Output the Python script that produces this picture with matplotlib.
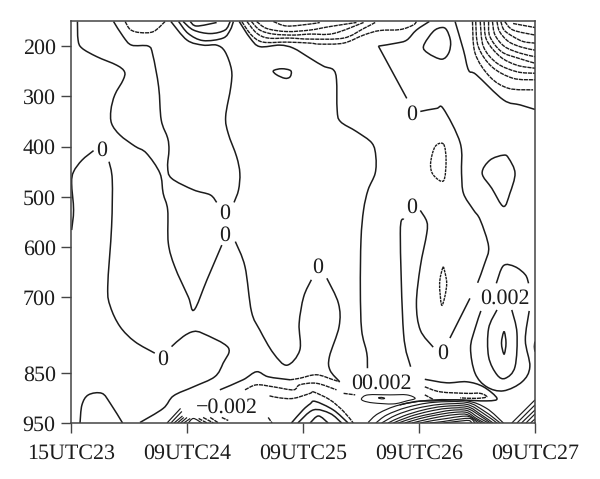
import matplotlib
matplotlib.use('Agg')
import numpy as np
import matplotlib.pyplot as plt
from matplotlib.path import Path
from matplotlib.patches import PathPatch

plt.rcParams['font.family'] = ['Liberation Serif', 'DejaVu Serif']
plt.rcParams['text.hinting'] = 'no_hinting'
plt.rcParams['text.hinting_factor'] = 1

# x = hours since 15UTC23, y = pressure in hPa
time_ticks = [0, 18, 36, 54, 72]
time_labels = ['15UTC23', '09UTC24', '09UTC25', '09UTC26', '09UTC27']
level_ticks = [200, 300, 400, 500, 600, 700, 850, 950]

# contours, solid ones
solid_lines = [
    [(1.0,151),(1.1,188),(1.7,204),(4.0,221),(7.1,238),(8.3,251),(8.1,267),(6.8,297),(6.2,327),(6.3,354),(7.6,377),(9.9,399),(11.7,413),(13.8,453),(14.3,493),(15.0,526),(15.1,592),(16.1,639),(18.2,699),(19.1,725),(21.1,665),(23.4,596)],
    [(6.6,151),(8.1,181),(9.4,198),(12.0,200),(12.7,218),(13.6,281),(14.0,347),(15.0,383),(15.2,407),(15.0,440),(15.6,463),(19.0,486),(21.6,496),(22.6,511)],
    [(15.5,151),(18.0,188),(20.5,198),(22.6,198),(23.9,211),(24.9,247),(24.8,281),(24.0,340),(24.4,374),(25.7,420),(26.2,453),(26.0,486),(25.3,511)],
    [(25.5,589),(27.0,639),(28.0,728),(29.3,765),(31.4,811),(33.5,835),(35.5,805),(35.4,752),(36.1,699),(37.3,665)],
    [(39.7,662),(41.5,712),(41.6,758),(40.1,818),(40.2,845),(41.7,868)],
    [(16.7,151),(18.2,175),(20.5,189),(23.6,184),(24.7,168),(25.2,151)],
    [(17.4,151),(19.0,168),(21.6,175),(23.9,168),(24.7,151)],
    [(18.5,151),(19.5,160),(22.6,153)],
    [(26.1,151),(27.8,184),(29.3,201),(32.4,198),(34.5,204),(37.1,224),(39.2,240),(40.7,247),(41.2,267),(41.3,327),(41.8,350),(44.3,370),(46.7,393),(47.3,420),(47.2,453),(46.1,486),(45.4,526),(45.0,585),(44.9,685),(45.1,765),(45.9,811),(46.0,841)],
    [(55.6,151),(53.6,168),(52.1,188),(50.5,194),(47.7,200)],
    [(47.7,200),(52.1,304)],
    [(54.2,330),(56.7,324),(57.8,325),(60.4,393),(60.6,453),(60.9,493),(62.4,525),(63.5,546),(64.8,599),(64.2,632),(63.1,671)],
    [(61.9,702),(58.8,781)],
    [(56.2,799),(54.2,765),(53.6,712),(54.2,639),(55.2,573),(55.2,549),(54.2,527)],
    [(51.6,543),(51.1,573),(51.6,771),(52.7,838)],
    [(59.6,151),(60.9,208),(61.7,248),(62.9,257),(67.1,307),(69.7,317),(72,326)],
    [(66.0,672),(67.1,637),(68.9,639),(70.5,655),(71.0,672)],
    [(63.6,727),(62.7,762),(62.0,801),(62.7,851),(64.5,878),(67.1,886),(70.0,868),(71.2,838),(70.5,785),(71.1,727)],
    [(66.1,725),(64.8,762),(64.8,818),(66.1,854),(67.4,861),(68.9,838),(69.2,771),(68.4,725)],
    [(72,788),(71.9,798),(72,808)],
    [(3.5,408),(1.7,427),(0.4,450),(0.1,473),(0.4,526),(0.1,566)],
    [(5.9,430),(6.4,466),(6.3,559),(5.7,679),(6.1,718),(7.6,758),(9.9,788),(13.0,811)],
    [(15.6,798),(17.4,778),(19.0,768),(20.5,772),(24.4,800),(23.6,831),(22.3,858),(19.0,878),(15.9,896),(14.3,921),(10.7,949)],
    [(1.4,950),(1.7,914),(2.7,894),(4.8,891),(6.1,911),(8.0,950)],
    [(23.1,884),(26.7,864),(28.8,848),(30.6,858),(34.0,864)],
    [(34.2,950),(36.0,924),(37.1,912),(37.9,907),(40.7,924),(43.0,950)],
    [(35.2,950),(37.6,924),(40.2,931),(42.0,950)],
    [(37.1,950),(38.4,936),(39.9,950)],
    [(54.9,863),(58.3,870),(61.4,868),(64.0,878),(66.1,901),(64.5,906),(59.8,904),(56.2,906),(53.6,907),(51.0,914)],
]

# tight packed contours at the ground, drawn thinner
dense_lines = [
    [(46.1,949),(47.7,931),(51.0,914),(56.2,904),(61.4,906),(64.5,921),(67.1,950)],
    [(47.3,950),(49.0,934),(52.1,919),(56.2,909),(61.4,909),(64.2,927),(66.6,950)],
    [(48.2,950),(50.5,934),(53.6,921),(57.3,913),(61.4,913),(64.0,931),(66.1,950)],
    [(49.2,950),(51.6,936),(54.7,924),(57.8,917),(61.4,917),(63.7,934),(65.5,950)],
    [(50.0,950),(52.6,937),(55.5,927),(58.3,921),(61.4,921),(63.5,936),(65.1,950)],
    [(50.8,950),(53.4,939),(56.2,931),(58.8,925),(61.4,925),(63.2,939),(64.8,950)],
    [(51.8,950),(54.2,941),(56.7,934),(59.3,929),(61.4,929),(62.9,941),(64.2,950)],
    [(52.9,950),(55.2,943),(57.5,937),(59.8,933),(61.4,933),(62.8,943),(63.7,950)],
    [(54.2,950),(56.2,945),(58.3,941),(60.4,937),(61.7,937),(62.7,945),(63.2,950)],
    [(55.7,950),(57.8,947),(59.8,943),(61.9,941),(62.7,950)],
    [(57.8,950),(59.8,947),(61.7,945),(62.2,950)],
    [(68.4,950),(72,904)],
    [(69.2,950),(72,914)],
    [(69.9,950),(72,924)],
    [(70.6,950),(72,932)],
    [(71.3,950),(72,942)],
    [(14.9,950),(17.0,921)],
    [(15.5,950),(17.2,927)],
    [(16.0,950),(17.3,936)],
    [(16.5,950),(17.5,939)],
    [(17.0,950),(18.0,939)],
    [(17.5,950),(18.5,941)],
    [(18.2,950),(19.0,941),(20.3,950)],
]

# dashed contours (the negative ones mostly)
dashed_lines = [
    [(8.4,151),(9.2,167),(10.7,173),(12.8,171),(14.6,151)],
    [(26.5,151),(28.0,178),(29.8,192),(33.5,192),(37.1,194),(38.6,196),(42.3,194),(45.4,178),(47.9,169),(51.1,167),(53.1,158),(53.6,151)],
    [(27.3,151),(28.8,174),(30.6,184),(34.0,184),(37.1,186),(42.3,184),(45.4,165),(47.2,153)],
    [(28.0,151),(29.3,168),(31.4,176),(34.5,178),(37.1,176),(40.7,175),(45.4,153)],
    [(28.8,151),(30.4,165),(33.5,171),(37.1,168),(40.2,161),(44.3,153)],
    [(31.4,151),(33.5,160),(37.1,156),(38.6,153)],
    [(62.3,151),(62.7,214),(65.0,261),(67.9,284),(71.7,287)],
    [(62.8,151),(63.2,201),(65.3,241),(68.6,264),(72,267)],
    [(63.5,151),(64.0,201),(66.1,234),(69.2,251),(72,254)],
    [(64.1,151),(64.5,188),(66.6,221),(69.2,238),(72,244)],
    [(64.8,151),(65.0,181),(66.8,211),(69.4,224),(72,234)],
    [(65.4,151),(65.8,178),(67.3,201),(69.7,214),(72,221)],
    [(66.1,151),(66.5,171),(67.9,191),(69.9,202),(72,208)],
    [(66.7,151),(67.2,168),(68.6,181),(70.2,191),(72,194)],
    [(67.3,151),(68.6,168),(72,178)],
    [(68.6,155),(72,163)],
    [(34.0,864),(35.5,861),(38.1,854),(40.7,864),(41.7,868)],
    [(27.0,884),(28.8,874),(31.4,878),(34.5,884),(35.5,874),(38.1,871),(41.2,884)],
    [(30.8,896),(32.4,900),(34.5,901),(37.1,891),(37.6,888),(40.2,904),(42.3,927),(43.8,950)],
    [(42.3,891),(44.1,894)],
    [(54.9,878),(57.3,888),(61.4,891),(63.5,891),(64.5,898),(62.9,901),(60.4,900)],
    [(54.9,894),(56.2,903)],
    [(19.8,941),(21.1,950)],
    [(20.5,939),(22.1,950)],
    [(21.6,939),(22.9,950)],
    [(23.4,939),(24.4,945)],
    [(30.6,939),(31.2,950)],
]

# closed loops
solid_loops = [
    [(57.5,163),(56.2,171),(54.7,200),(55.4,214),(57.5,226),(58.6,214),(58.9,191),(58.3,168)],
    [(67.1,417),(65.0,427),(63.8,453),(65.3,483),(67.1,519),(68.1,493),(68.9,453),(67.9,423)],
    [(31.4,249),(32.7,245),(34.1,249),(34.0,261),(33.2,264),(31.9,257)],
    [(67.2,768),(66.8,791),(67.2,813),(67.5,791)],
]
thin_loops = [
    [(45.1,901),(46.1,894),(49.5,894),(52.1,894),(53.4,901),(52.1,906),(50.0,912),(46.9,910),(45.4,906)],
    [(47.7,900),(48.2,899),(48.7,901),(48.2,902)],
]
dashed_loops = [
    [(57.8,395),(56.5,400),(55.8,433),(56.2,456),(57.8,468),(58.2,427)],
    [(57.7,641),(57.2,672),(57.5,715),(58.0,699),(58.3,672),(58.0,649)],
]

# contour labels
label_texts = ['0', '0', '0', '0', '0', '0', '0', '0', '0.002', '00.002', '\u22120.002']
label_x = [4.8, 23.9, 23.9, 14.3, 38.3, 52.8, 52.8, 57.6, 67.4, 48.1, 24.2]
label_y = [407, 534, 576, 823, 641, 337, 522, 811, 703, 872, 918]


# smooth curve through the read points (Catmull-Rom written as Bezier)
def smooth_path(pts, closed=False):
    p = np.array(pts, dtype=float)
    if closed:
        p = np.vstack([p[-1], p, p[0], p[1]])
    else:
        p = np.vstack([p[0], p, p[-1]])
    verts = [p[1]]
    codes = [Path.MOVETO]
    for i in range(1, len(p) - 2):
        verts += [p[i] + (p[i + 1] - p[i - 1]) / 6, p[i + 1] - (p[i + 2] - p[i]) / 6, p[i + 1]]
        codes += [Path.CURVE4] * 3
    return Path(verts, codes)


def draw(ax, lines, closed, ls, lw):
    for pts in lines:
        ax.add_patch(PathPatch(smooth_path(pts, closed), fill=False, ec='#1c1c1c', lw=lw, ls=ls, capstyle='butt'))


fig = plt.figure(figsize=(6, 4.79), dpi=100)
ax = fig.add_axes([71 / 600, 56 / 479, 464 / 600, 402 / 479])

draw(ax, solid_lines, False, '-', 1.1)
draw(ax, solid_loops, True, '-', 1.1)
draw(ax, dense_lines, False, '-', 0.85)
draw(ax, thin_loops, True, '-', 0.8)
draw(ax, dashed_lines, False, (0, (3.0, 0.6)), 1.0)
draw(ax, dashed_loops, True, (0, (2.0, 0.6)), 1.0)

for txt, x, y in zip(label_texts, label_x, label_y):
    ax.text(x, y, txt, ha='center', va='center', fontsize=15.8, color='#1c1c1c')

ax.set_xlim(0, 72)
ax.set_ylim(950, 150)
ax.set_xticks(time_ticks)
ax.set_xticklabels(time_labels)
ax.set_yticks(level_ticks)
ax.tick_params(axis='y', labelsize=15.8, length=7, width=1, color='#444444', labelcolor='#1c1c1c', pad=4)
ax.tick_params(axis='x', labelsize=15.8, length=7, width=1, color='#444444', labelcolor='#1c1c1c', pad=8)
for s in ax.spines.values():
    s.set_color('#444444')
    s.set_linewidth(1.1)

fig.savefig('out.png', dpi=100)
